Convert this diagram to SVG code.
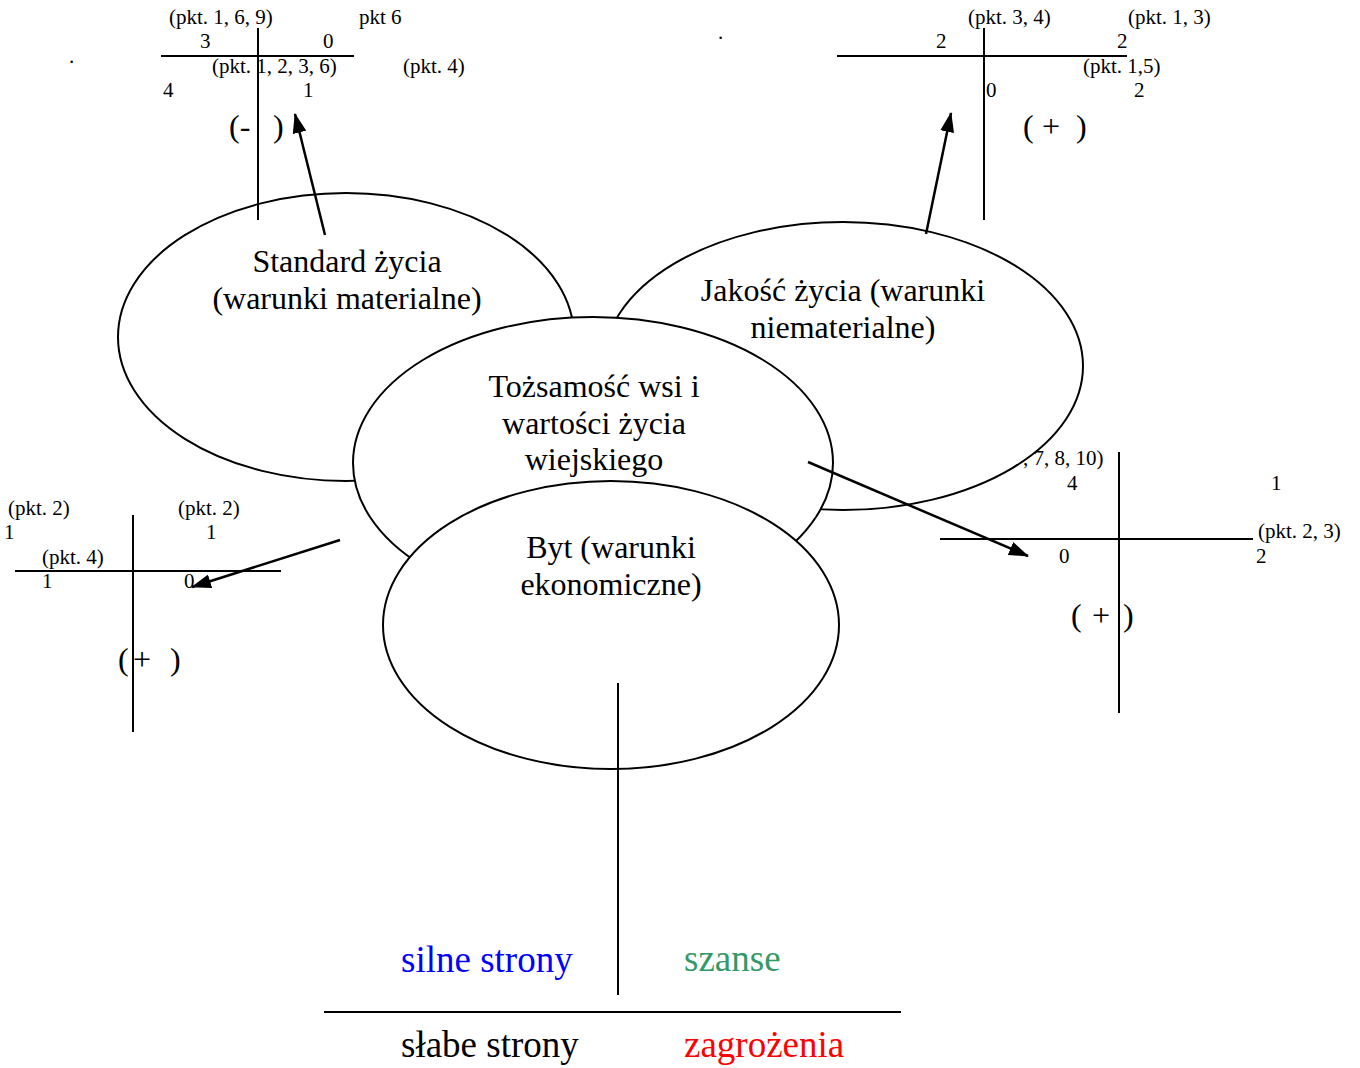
<svg xmlns="http://www.w3.org/2000/svg" width="1360" height="1068" viewBox="0 0 1360 1068">
<style>
text{font-family:"Liberation Serif","Times New Roman",serif;fill:#000}
.s{font-size:21px}
.m{font-size:32px;text-anchor:middle}
.b{font-size:32px}
.l{font-size:37px}
.e{fill:#fff;stroke:#000;stroke-width:2}
.ln{stroke:#000;stroke-width:2;fill:none}
.ar{stroke:#000;stroke-width:2.5;fill:none;marker-end:url(#ah)}
</style>
<defs>
<marker id="ah" viewBox="0 0 20 14" refX="19" refY="7" markerWidth="20" markerHeight="14" orient="auto" markerUnits="userSpaceOnUse">
<path d="M0,0 L20,7 L0,14 z" fill="#000"/>
</marker>
</defs>
<rect width="1360" height="1068" fill="#fff"/>

<text class="s" x="1023" y="465">, 7, 8, 10)</text>

<g id="node-standard">
<ellipse class="e" cx="346" cy="337" rx="228" ry="144"/>
<text class="m" x="347" y="272">Standard życia</text>
<text class="m" x="347" y="309">(warunki materialne)</text>
</g>
<g id="node-jakosc">
<ellipse class="e" cx="843" cy="366" rx="240" ry="144"/>
<text class="m" x="843" y="301">Jakość życia (warunki</text>
<text class="m" x="843" y="338">niematerialne)</text>
</g>
<g id="node-tozsamosc">
<ellipse class="e" cx="593" cy="463" rx="240" ry="146"/>
<text class="m" x="594" y="397">Tożsamość wsi i</text>
<text class="m" x="594" y="434">wartości życia</text>
<text class="m" x="594" y="470">wiejskiego</text>
</g>
<g id="node-byt">
<ellipse class="e" cx="611" cy="625" rx="228" ry="144"/>
<text class="m" x="611" y="558">Byt (warunki</text>
<text class="m" x="611" y="595">ekonomiczne)</text>
</g>

<g id="cross-standard">
<line class="ln" x1="161" y1="56" x2="354" y2="56"/>
<line class="ln" x1="258" y1="28" x2="258" y2="220"/>
<text class="s" x="169" y="24">(pkt. 1, 6, 9)</text>
<text class="s" x="359" y="24">pkt 6</text>
<text class="s" x="200" y="48">3</text>
<text class="s" x="323" y="48">0</text>
<text class="s" x="212" y="73">(pkt. 1, 2, 3, 6)</text>
<text class="s" x="403" y="73">(pkt. 4)</text>
<text class="s" x="163" y="97">4</text>
<text class="s" x="303" y="97">1</text>
<text class="b" y="137"><tspan x="229">(-</tspan><tspan x="273">)</tspan></text>
<text class="s" x="69" y="63">.</text>
</g>

<g id="cross-jakosc">
<line class="ln" x1="837" y1="56" x2="1127" y2="56"/>
<line class="ln" x1="984" y1="28" x2="984" y2="220"/>
<text class="s" x="968" y="24">(pkt. 3, 4)</text>
<text class="s" x="1128" y="24">(pkt. 1, 3)</text>
<text class="s" x="936" y="48">2</text>
<text class="s" x="1117" y="48">2</text>
<text class="s" x="1083" y="73">(pkt. 1,5)</text>
<text class="s" x="986" y="97">0</text>
<text class="s" x="1134" y="97">2</text>
<text class="b" y="137"><tspan x="1023">(</tspan><tspan x="1042">+</tspan><tspan x="1076">)</tspan></text>
<text class="s" x="718" y="39">.</text>
</g>

<g id="cross-tozsamosc">
<line class="ln" x1="940" y1="539" x2="1253" y2="539"/>
<line class="ln" x1="1119" y1="452" x2="1119" y2="713"/>
<text class="s" x="1067" y="490">4</text>
<text class="s" x="1271" y="490">1</text>
<text class="s" x="1258" y="538">(pkt. 2, 3)</text>
<text class="s" x="1059" y="563">0</text>
<text class="s" x="1256" y="563">2</text>
<text class="b" y="626"><tspan x="1071">(</tspan><tspan x="1092">+</tspan><tspan x="1123">)</tspan></text>
</g>

<g id="cross-byt-left">
<line class="ln" x1="15" y1="571" x2="281" y2="571"/>
<line class="ln" x1="133" y1="515" x2="133" y2="732"/>
<text class="s" x="8" y="515">(pkt. 2)</text>
<text class="s" x="178" y="515">(pkt. 2)</text>
<text class="s" x="4" y="539">1</text>
<text class="s" x="206" y="539">1</text>
<text class="s" x="42" y="564">(pkt. 4)</text>
<text class="s" x="42" y="588">1</text>
<text class="s" x="184" y="588">0</text>
<text class="b" y="670"><tspan x="118">(</tspan><tspan x="133">+</tspan><tspan x="170">)</tspan></text>
</g>

<g id="legend">
<line class="ln" x1="618" y1="683" x2="618" y2="995"/>
<line class="ln" x1="324" y1="1012" x2="901" y2="1012"/>
<text class="l" x="401" y="972" style="fill:#0000ff">silne strony</text>
<text class="l" x="684" y="971" style="fill:#339966">szanse</text>
<text class="l" x="401" y="1057">słabe strony</text>
<text class="l" x="684" y="1057" style="fill:#ff0000">zagrożenia</text>
</g>

<g id="connectors">
<line class="ar" x1="325" y1="235" x2="295" y2="114"/>
<line class="ar" x1="926" y1="234" x2="951" y2="113"/>
<line class="ar" x1="808" y1="462" x2="1028" y2="556"/>
<line class="ar" x1="340" y1="540" x2="192" y2="587"/>
</g>
</svg>
